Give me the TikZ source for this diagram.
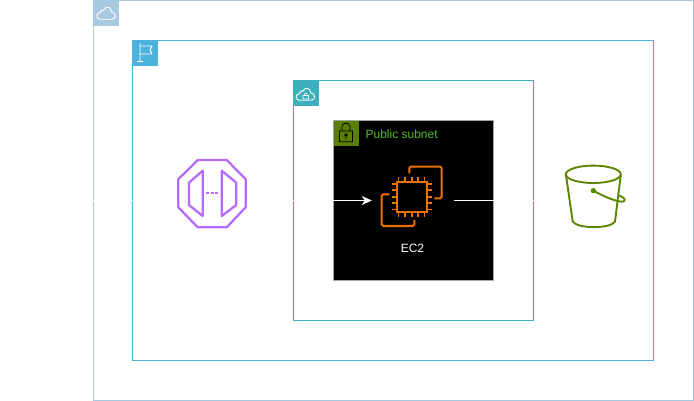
\documentclass[tikz,border=0pt]{standalone}
\usepackage{fontspec}
\setmainfont{Liberation Sans}
\usepackage{xcolor}
\usetikzlibrary{positioning, arrows.meta}

\definecolor{cloudblue}{HTML}{A9C9E0}
\definecolor{regionblue}{HTML}{4DB1DD}
\definecolor{vpcteal}{HTML}{3DAEBB}
\definecolor{subnetgreen}{HTML}{5A7F00}
\definecolor{labelgreen}{HTML}{55BB33}
\definecolor{igwpurple}{HTML}{B56BFF}
\definecolor{ec2orange}{HTML}{ED7100}
\definecolor{bucketgreen}{HTML}{5C8500}

\begin{document}
\begin{tikzpicture}[
        x=1pt, y=-1pt,
        every node/.style={inner sep=0pt},
        container/.style={rectangle, draw, line width=1pt, fill=none},
        tab/.style={rectangle, minimum width=25pt, minimum height=25pt, anchor=north west},
        icon/.style={rectangle, minimum width=80pt, minimum height=80pt},
        glyph/.style={white, line width=0.9pt, line join=round, line cap=round},
        wire/.style={white, line width=1pt},
        arrow/.style={wire, -{Stealth[length=10pt, width=9pt, inset=3pt]}},
        cloudline/.pic={
            \draw[glyph] (-6,6.3) .. controls (-10.5,6.3) and (-10.5,0) .. (-6.2,-0.2)
                .. controls (-6,-3) and (-3.5,-3.5) .. (-2.5,-2.8)
                .. controls (-1,-7) and (5,-7) .. (5.2,-1.2)
                .. controls (10,-1) and (10.5,6.3) .. (5.5,6.3) -- cycle;
        }
    ]
    \useasboundingbox (0,0) rectangle (694,401);

    % boxes
    \node[container, draw=cloudblue, minimum width=600pt, minimum height=400pt] (cloud) at (393.5,200.5) {};
    \node[container, draw=regionblue, minimum width=521pt, minimum height=320pt] (region) at (393,200.5) {};
    \node[container, draw=vpcteal, minimum width=240pt, minimum height=240pt] (vpc) at (413.5,200.5) {};
    \node[container, draw=gray!70, fill=black, minimum width=160pt, minimum height=160pt] (subnet) at (413.5,200.5) {};

    % tabs
    \node[tab, fill=cloudblue] (cloudtab) at (94,1) {};
    \node[tab, fill=regionblue] (regiontab) at (133,41) {};
    \node[tab, fill=vpcteal] (vpctab) at (294,81) {};
    \node[tab, fill=subnetgreen] (subnettab) at (334,121) {};
    \node[right=6pt of subnettab, yshift=-0.5pt, text=labelgreen, font=\fontsize{12}{14}\selectfont] (subnetlabel) {Public subnet};

    % tab glyphs
    \pic at (106.3,13) {cloudline};
    \draw[glyph] (140,43.5) -- (140,61.5) (137.5,61.5) -- (143,61.5)
        (140,46) -- (152,46) -- (150,50) -- (152,54) -- (140,54);
    \pic at (305.5,94) {cloudline};
    \draw[glyph, line width=0.6pt] (303,95.5) rectangle (308.5,99) (304,95.5) .. controls (304,92.5) and (307.5,92.5) .. (307.5,95.5);
    \draw[black, line width=0.8pt] (339.5,131) rectangle (352.5,141.7)
        (342,131) -- (342,126.5) .. controls (342,122) and (350,122) .. (350,126.5) -- (350,131);
    \draw[black, line width=0.8pt] (346,135) circle (1.3) (346,136.3) -- (346,139);

    % services
    \node[icon] (igw) at (212,200.5) {};
    \node[icon, minimum width=82pt] (ec2) at (413,200.5) {};
    \node[icon] (s3) at (594,200.5) {};
    \node[text=white, font=\fontsize{12}{14}\selectfont] (ec2label) at (412.5,248.5) {EC2};
    \coordinate (inet) at (88,200.5);

    \draw[igwpurple, line width=2.3pt, line join=round] (197.7,160) -- (226.7,160) -- (245.7,179.3) -- (245.7,207.3)
        -- (226.7,227.3) -- (197.7,227.3) -- (178.3,207.3) -- (178.3,179.3) -- cycle;
    \draw[igwpurple, line width=2.3pt, line join=round] (202.7,170.7) -- (189,182.7) -- (189,205) -- (202.7,216) -- cycle;
    \draw[igwpurple, line width=2.3pt, line join=round] (221.7,170.7) -- (236.3,182.7) -- (236.3,205) -- (221.7,216) -- cycle;
    \foreach \dotx in {207.5,212,216.5} {
        \fill[igwpurple] (\dotx-1.5,191.7) rectangle (\dotx+1.5,194.5);
    }

    \draw[ec2orange, line width=2pt] (396.7,182.3) rectangle (426.7,211.7);
    \foreach \pinx in {398.3,405,411.7,418,424.3} {
        \draw[ec2orange, line width=1.6pt] (\pinx,176.7) -- (\pinx,182.3) (\pinx,211.7) -- (\pinx,217.3);
    }
    \foreach \piny in {184,190.3,196.8,203.2,209.5} {
        \draw[ec2orange, line width=1.6pt] (391.7,\piny) -- (396.7,\piny) (426.7,\piny) -- (431.7,\piny);
    }
    \draw[ec2orange, line width=2pt, rounded corners=1.5pt] (409.3,173.3) -- (409.3,166.7) -- (441.7,166.7) -- (441.7,198.3) -- (434.3,198.3);
    \draw[ec2orange, line width=2pt, rounded corners=1.5pt] (389.3,194.3) -- (381.7,194.3) -- (381.7,226) -- (414.3,226) -- (414.3,220);

    \draw[bucketgreen, line width=1.9pt] (593.3,174.3) ellipse (27.5 and 8.7);
    \draw[bucketgreen, line width=1.9pt] (566,175) -- (572.7,221.5) .. controls (577,229) and (611,229) .. (615,221.5) -- (620.8,175);
    \fill[bucketgreen] (593.3,190.7) circle (2.6);
    \draw[bucketgreen, line width=1.9pt] (593.3,190.7) .. controls (603,196) and (612,200) .. (620,201.5)
        .. controls (625,202.5) and (626,199.5) .. (623,197.5) .. controls (621,196) and (619,195.5) .. (618.5,195.5);

    % connectors
    \draw[wire] (inet) -- (igw);
    \draw[arrow] (igw) -- (ec2);
    \draw[wire] (ec2) -- (s3);
\end{tikzpicture}
\end{document}
